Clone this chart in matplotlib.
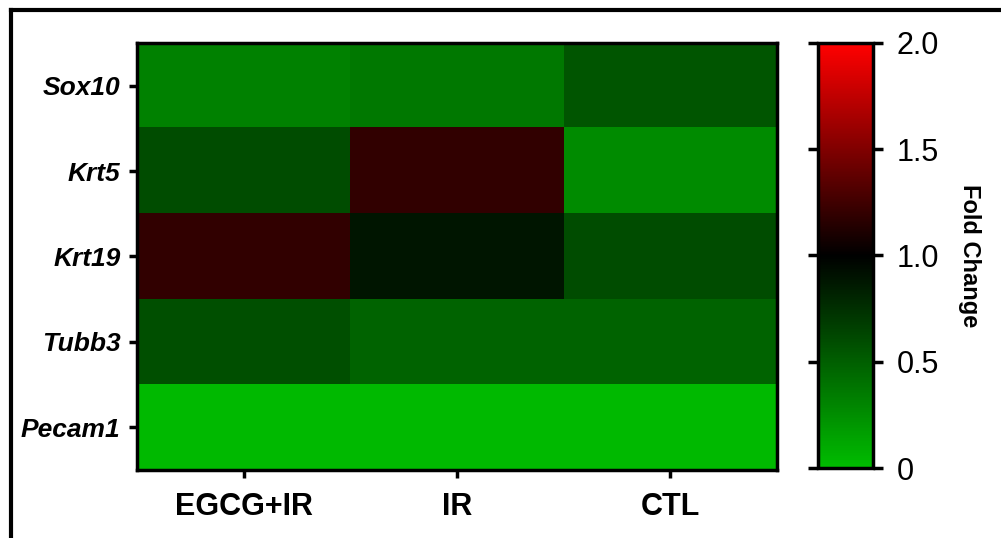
import numpy as np
import matplotlib
matplotlib.use('Agg')
import matplotlib.pyplot as plt
from matplotlib.colors import LinearSegmentedColormap
from matplotlib.lines import Line2D

genes = ['Sox10', 'Krt5', 'Krt19', 'Tubb3', 'Pecam1']
groups = ['EGCG+IR', 'IR', 'CTL']

# fold change per gene (rows) and group (columns)
sox10 = [0.32, 0.36, 0.55]
krt5 = [0.60, 1.19, 0.26]
krt19 = [1.19, 0.89, 0.60]
tubb3 = [0.58, 0.47, 0.47]
pecam1 = [0.02, 0.02, 0.02]

cbar_ticks = [0, 0.5, 1.0, 1.5, 2.0]
cbar_labels = ['0', '0.5', '1.0', '1.5', '2.0']

data = np.array([sox10, krt5, krt19, tubb3, pecam1])

plt.rcParams['font.family'] = ['Liberation Sans', 'DejaVu Sans']

cmap = LinearSegmentedColormap.from_list(
    'gkr', [(0.0, (0, 0.74, 0)), (0.5, (0, 0, 0)), (1.0, (1, 0, 0))])

fig = plt.figure(figsize=(10.01, 5.38), dpi=100)

ax = fig.add_axes([0.1369, 0.1264, 0.6394, 0.7937])
im = ax.imshow(data, cmap=cmap, vmin=0, vmax=2, aspect='auto',
               interpolation='nearest')
ax.set_xticks(range(len(groups)))
ax.set_xticklabels(groups, fontsize=22, fontweight='bold')
ax.set_yticks(range(len(genes)))
ax.set_yticklabels(genes, fontsize=19, fontweight='bold', style='italic')
ax.tick_params(axis='both', length=6, width=2.5, direction='out', color='black')
ax.tick_params(axis='x', pad=10)
ax.tick_params(axis='y', pad=6)
for s in ax.spines.values():
    s.set_linewidth(2.5)

cax = fig.add_axes([0.8172, 0.1301, 0.0549, 0.79])
cb = fig.colorbar(im, cax=cax)
cb.set_ticks(cbar_ticks)
cb.set_ticklabels(cbar_labels)
cb.outline.set_linewidth(2.5)
cax.yaxis.set_ticks_position('both')
cax.tick_params(length=7, width=2.5, direction='out', labelsize=22,
                labelleft=False, labelright=True, pad=10)
cb.set_label('Fold Change', rotation=270, fontsize=17, fontweight='bold',
             labelpad=30)

# outer frame (only top and left sides visible)
fig.add_artist(Line2D([0.0105, 0.0105], [0.0, 0.9815], color='black',
                      linewidth=3, transform=fig.transFigure,
                      solid_capstyle='projecting'))
fig.add_artist(Line2D([0.0105, 1.0], [0.9815, 0.9815], color='black',
                      linewidth=3, transform=fig.transFigure,
                      solid_capstyle='projecting'))

fig.savefig('out.png', dpi=100)
